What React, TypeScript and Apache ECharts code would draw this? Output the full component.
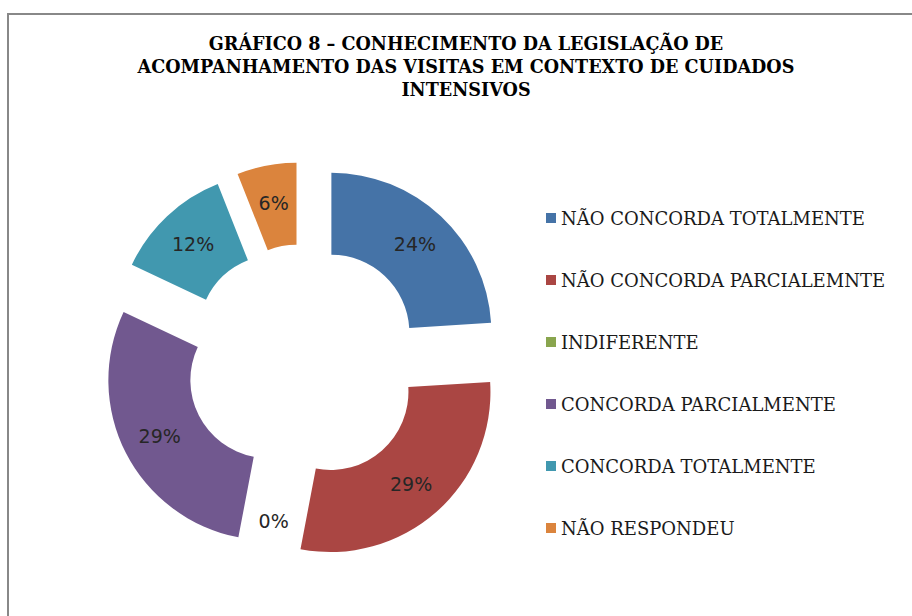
import React, { useEffect, useRef } from "react";
import * as echarts from "echarts";

const categories = [
  "NÃO CONCORDA TOTALMENTE",
  "NÃO CONCORDA PARCIALEMNTE",
  "INDIFERENTE",
  "CONCORDA PARCIALMENTE",
  "CONCORDA TOTALMENTE",
  "NÃO RESPONDEU",
];
const values = [24, 29, 0, 29, 12, 6];
const colors = ["#4573A7", "#AA4643", "#89A54E", "#71588F", "#4198AF", "#DB843D"];
const titleLines = [
  "GRÁFICO 8 – CONHECIMENTO DA LEGISLAÇÃO DE",
  "ACOMPANHAMENTO DAS VISITAS EM CONTEXTO DE CUIDADOS",
  "INTENSIVOS",
];

export default function App() {
  const ref = useRef<HTMLDivElement>(null);
  useEffect(() => {
    const chart = echarts.init(ref.current!, null, { renderer: "svg" });
    chart.setOption({
      animation: false,
      backgroundColor: "#ffffff",
      color: colors,
      title: {
        text: titleLines.join("\n"),
        left: 466,
        top: 32,
        padding: 0,
        textAlign: "center",
        textStyle: {
          fontFamily: "DejaVu Serif",
          fontWeight: "bold",
          fontSize: 17.6,
          lineHeight: 23,
          color: "#000000",
        },
      },
      legend: {
        orient: "vertical",
        left: 541,
        top: 204,
        itemWidth: 10,
        itemHeight: 10,
        itemGap: 44,
        icon: "rect",
        selectedMode: false,
        textStyle: { fontFamily: "DejaVu Serif", fontSize: 18, lineHeight: 18, color: "#1a1a1a" },
        data: categories,
      },
      graphic: [
        {
          type: "rect",
          silent: true,
          z: -1,
          shape: { x: 8, y: 14, width: 930, height: 640 },
          style: { fill: "none", stroke: "#888888", lineWidth: 2 },
        },
      ],
      series: [
        {
          type: "pie",
          center: [304, 362],
          radius: [78, 160],
          startAngle: 90,
          clockwise: true,
          selectedMode: "multiple",
          selectedOffset: 40,
          percentPrecision: 0,
          avoidLabelOverlap: false,
          label: {
            show: true,
            position: "inside",
            formatter: "{d}%",
            fontFamily: "DejaVu Sans",
            fontSize: 19,
            color: "#262626",
          },
          labelLine: { show: false },
          emphasis: { disabled: true },
          data: categories.map((n, i) => ({ name: n, value: values[i], selected: true })),
        },
      ],
    });
    return () => chart.dispose();
  }, []);
  return (
    <div
      ref={ref}
      style={{ position: "fixed", left: 0, top: 0, width: 912, height: 616 }}
    />
  );
}
